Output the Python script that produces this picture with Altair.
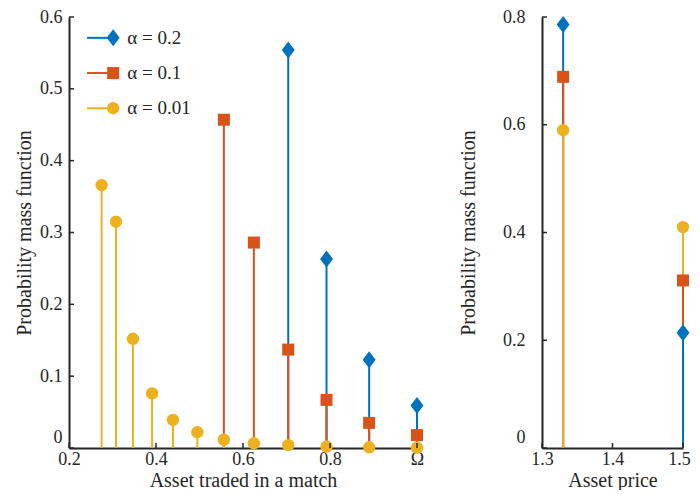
import altair as alt
import pandas as pd

# ---------------- data ----------------
series = ["α = 0.2", "α = 0.1", "α = 0.01"]
colors = ["#0072BD", "#D95319", "#EDB120"]

# left panel: asset traded in a match (1.0 is labelled Ω)
x_blue_left = [0.704, 0.792, 0.890, 1.0]
p_blue_left = [0.554, 0.263, 0.123, 0.059]
x_red_left = [0.556, 0.625, 0.704, 0.792, 0.890, 1.0]
p_red_left = [0.457, 0.286, 0.137, 0.067, 0.035, 0.018]
x_yel_left = [0.275, 0.308, 0.347, 0.391, 0.439, 0.495, 0.556, 0.625, 0.704, 0.792, 0.890, 1.0]
p_yel_left = [0.366, 0.315, 0.152, 0.076, 0.039, 0.022, 0.0115, 0.0065, 0.004, 0.002, 0.001, 0.0005]

# right panel: asset price
x_price = [1.33, 1.5]
p_blue_right = [0.786, 0.214]
p_red_right = [0.689, 0.311]
p_yel_right = [0.59, 0.41]

# ticks
left_xticks = [0.2, 0.4, 0.6, 0.8, 1.0]
left_yticks = [0, 0.1, 0.2, 0.3, 0.4, 0.5, 0.6]
right_xticks = [1.3, 1.4, 1.5]
right_yticks = [0, 0.2, 0.4, 0.6, 0.8]

# ---------------- style ----------------
AX = "#262626"
FONT = "Liberation Serif"
H = 431
WL = 348
WR = 141
TICK = 5
DIAMOND = "M0,-1L0.76,0L0,1L-0.76,0Z"
shapes = [DIAMOND, "square", "circle"]
sizes = [289, 144, 154]
cscale = alt.Scale(domain=series, range=colors)


def long_df(xs_list, ps_list):
    rows = []
    for s, xs, ps in zip(series, xs_list, ps_list):
        for x, p in zip(xs, ps):
            rows.append({"series": s, "x": x, "p": p})
    return pd.DataFrame(rows)


left_df = long_df([x_blue_left, x_red_left, x_yel_left], [p_blue_left, p_red_left, p_yel_left])
right_df = long_df([x_price] * 3, [p_blue_right, p_red_right, p_yel_right])


def panel(df, xdom, xticks, xlabel_expr, ydom, yticks, w, xtitle,
          ylab_pad, ytitle_pad, last_x_offset=0, legend=False):
    xs = alt.Scale(domain=xdom, nice=False, zero=False)
    ys = alt.Scale(domain=ydom, nice=False, zero=False)
    xaxis = alt.Axis(values=xticks, labelExpr=xlabel_expr, ticks=False, grid=False,
                     labelFlush=False, labelPadding=2, titlePadding=2,
                     labelOffset={"condition": {"test": f"datum.value === {xticks[-1]}",
                                                "value": last_x_offset}, "value": 0})
    yaxis = alt.Axis(values=yticks,
                     labelExpr="datum.value == 0 ? '0' : format(datum.value, '.1f')",
                     ticks=False, grid=False, labelFlush=False,
                     labelPadding=ylab_pad, titlePadding=ytitle_pad,
                     labelOffset={"condition": {"test": "datum.value === 0", "value": -11}, "value": 0})
    ytitle = "Probability mass function"

    stems = alt.Chart(df).mark_rule(strokeWidth=2).encode(
        x=alt.X("x:Q", scale=xs, axis=xaxis, title=xtitle),
        y=alt.Y("p:Q", scale=ys, axis=yaxis, title=ytitle),
        y2=alt.datum(ydom[0]),
        color=alt.Color("series:N", scale=cscale, legend=None),
        order=alt.Order("p:Q", sort="descending"),
    )
    layers = [stems]
    for s, c, sh, sz in zip(series, colors, shapes, sizes):
        layers.append(
            alt.Chart(df).transform_filter(alt.datum.series == s).mark_point(
                shape=sh, size=sz, filled=True, color=c, opacity=1, strokeWidth=0
            ).encode(x=alt.X("x:Q", title=xtitle), y=alt.Y("p:Q", title=ytitle))
        )
    # inward ticks (MATLAB style)
    layers.append(
        alt.Chart(pd.DataFrame({"t": xticks})).mark_rule(color=AX, strokeWidth=1.5).encode(
            x=alt.X("t:Q", title=xtitle), y=alt.value(H), y2=alt.value(H - TICK)
        )
    )
    layers.append(
        alt.Chart(pd.DataFrame({"t": yticks})).mark_rule(color=AX, strokeWidth=1.5).encode(
            y=alt.Y("t:Q", title=ytitle), x=alt.value(0), x2=alt.value(TICK)
        )
    )
    if legend:
        ldf = pd.DataFrame({"series": series, "i": list(range(len(series)))})
        LX0, LX1, LXT, LY0, LDY = 0.2415, 0.3015, 0.334, 0.571, 0.049
        base = alt.Chart(ldf).transform_calculate(ly=f"{LY0} - {LDY} * datum.i")
        layers.append(base.mark_rule(strokeWidth=2).encode(
            x=alt.datum(LX0), x2=alt.datum(LX1), y=alt.Y("ly:Q", title=ytitle),
            color=alt.Color("series:N", scale=cscale, legend=None)))
        for s, c, sh, sz in zip(series, colors, shapes, sizes):
            layers.append(base.transform_filter(alt.datum.series == s).mark_point(
                shape=sh, size=sz, filled=True, color=c, opacity=1, strokeWidth=0
            ).encode(x=alt.datum(LX1), y=alt.Y("ly:Q", title=ytitle)))
        layers.append(base.mark_text(align="left", baseline="middle", fontSize=19,
                                     font=FONT, color=AX).encode(
            x=alt.datum(LXT), y=alt.Y("ly:Q", title=ytitle), text="series:N"))
    return alt.layer(*layers).properties(width=w, height=H)


left = panel(left_df, [0.2, 1.0], left_xticks,
             "datum.value >= 0.99 ? 'Ω' : format(datum.value, '.1f')",
             [0, 0.6], left_yticks, WL, "Asset traded in a match",
             ylab_pad=7, ytitle_pad=5, legend=True)
right = panel(right_df, [1.3, 1.5], right_xticks,
              "format(datum.value, '.1f')",
              [0, 0.8], right_yticks, WR, "Asset price",
              ylab_pad=17, ytitle_pad=24, last_x_offset=-4)

chart = alt.hconcat(left, right, spacing=34).properties(
    padding={"left": 6, "top": 0, "right": 0, "bottom": 0}
).configure(font=FONT).configure_view(stroke=None).configure_axis(
    domainColor=AX, domainWidth=2, labelColor=AX, titleColor=AX,
    labelFont=FONT, titleFont=FONT, labelFontSize=18, titleFontSize=20,
    titleFontWeight="normal",
)

chart.save("out.html", embed_options={"renderer": "svg", "actions": False})
